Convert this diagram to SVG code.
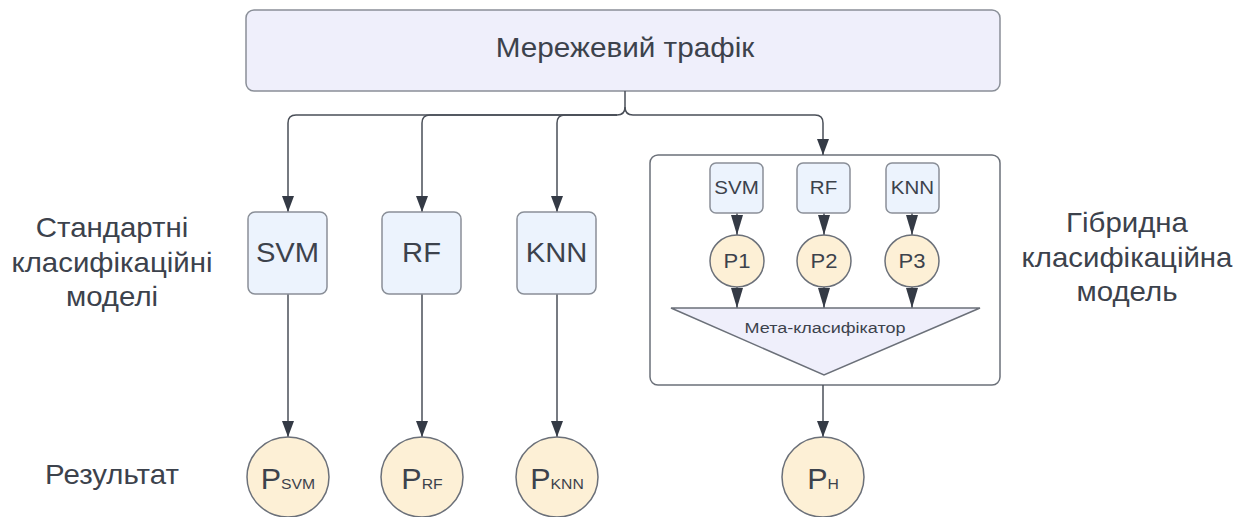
<svg xmlns="http://www.w3.org/2000/svg" width="1250" height="517" viewBox="0 0 1250 517">
<defs>
<marker id="arr" markerUnits="userSpaceOnUse" markerWidth="18" markerHeight="14" viewBox="0 0 18 14" refX="16" refY="7" orient="auto">
<path d="M0 1 L16 7 L0 13 Z" fill="#343a45"/>
</marker>
<marker id="arr2" markerUnits="userSpaceOnUse" markerWidth="22" markerHeight="14" viewBox="0 0 22 14" refX="20" refY="7" orient="auto">
<path d="M0 1 L20 7 L0 13 Z" fill="#343a45"/>
</marker>
<style>
.t{font-family:"Liberation Sans",Arial,sans-serif;fill:#3c424c;text-anchor:middle}
.top{fill:#efeffb;stroke:#8a8f98;stroke-width:1.5}
.box{fill:#ecf3fd;stroke:#8a8f98;stroke-width:1.5}
.res{fill:#fdf0d6;stroke:#6b7079;stroke-width:1.5}
.cont{fill:#ffffff;stroke:#6b7079;stroke-width:1.5}
.meta{fill:#efeffb;stroke:#6b7079;stroke-width:1.5}
.c{fill:none;stroke:#4a4f58;stroke-width:1.5}
</style>
</defs>
<rect width="1250" height="517" fill="#ffffff"/>

<g id="traffic">
<rect class="top" x="246" y="10" width="754" height="81" rx="8"/>
<text class="t" transform="translate(625,57) scale(1.1,1)" font-size="27">Мережевий трафік</text>
</g>

<g id="label-standard">
<text class="t" transform="translate(112,237) scale(1.09,1)" font-size="27">Стандартні</text>
<text class="t" transform="translate(112,272) scale(1.09,1)" font-size="27">класифікаційні</text>
<text class="t" transform="translate(112,306) scale(1.09,1)" font-size="27">моделі</text>
</g>
<g id="label-result">
<text class="t" transform="translate(112,484) scale(1.09,1)" font-size="27">Результат</text>
</g>
<g id="label-hybrid">
<text class="t" transform="translate(1127,232) scale(1.09,1)" font-size="27">Гібридна</text>
<text class="t" transform="translate(1127,267) scale(1.09,1)" font-size="27">класифікаційна</text>
<text class="t" transform="translate(1127,301) scale(1.09,1)" font-size="27">модель</text>
</g>

<g id="hybrid-container">
<rect class="cont" x="650" y="155" width="350" height="230" rx="8"/>
</g>

<g id="connectors">
<path class="c" d="M625 91 V107 Q625 115 617 115 H296 Q288 115 288 123 V212" marker-end="url(#arr)"/>
<path class="c" d="M617 115 H430 Q422 115 422 123 V212" marker-end="url(#arr)"/>
<path class="c" d="M617 115 H565 Q557 115 557 123 V212" marker-end="url(#arr)"/>
<path class="c" d="M625 107 Q625 115 633 115 H815 Q823 115 823 123 V155" marker-end="url(#arr)"/>
<path class="c" d="M288 294 V437" marker-end="url(#arr)"/>
<path class="c" d="M422 294 V437" marker-end="url(#arr)"/>
<path class="c" d="M557 294 V437" marker-end="url(#arr)"/>
<path class="c" d="M823 385 V437" marker-end="url(#arr)"/>
<path class="c" d="M737 213 V235" marker-end="url(#arr2)"/>
<path class="c" d="M824 213 V235" marker-end="url(#arr2)"/>
<path class="c" d="M912 213 V235" marker-end="url(#arr2)"/>
<path class="c" d="M737 287 V308" marker-end="url(#arr2)"/>
<path class="c" d="M824 287 V308" marker-end="url(#arr2)"/>
<path class="c" d="M912 287 V308" marker-end="url(#arr2)"/>
</g>

<g id="svm">
<rect class="box" x="248" y="212" width="79" height="82" rx="7"/>
<text class="t" transform="translate(287.5,262) scale(1.08,1)" font-size="27">SVM</text>
</g>
<g id="rf">
<rect class="box" x="382" y="212" width="79" height="82" rx="7"/>
<text class="t" transform="translate(421.5,262) scale(1.08,1)" font-size="27">RF</text>
</g>
<g id="knn">
<rect class="box" x="517" y="212" width="79" height="82" rx="7"/>
<text class="t" transform="translate(556.5,262) scale(1.08,1)" font-size="27">KNN</text>
</g>

<g id="h-svm">
<rect class="box" x="710" y="163" width="53" height="50" rx="6"/>
<text class="t" transform="translate(736.5,194) scale(1.08,1)" font-size="19">SVM</text>
</g>
<g id="h-rf">
<rect class="box" x="797" y="163" width="53" height="50" rx="6"/>
<text class="t" transform="translate(823.5,194) scale(1.08,1)" font-size="19">RF</text>
</g>
<g id="h-knn">
<rect class="box" x="886" y="163" width="53" height="50" rx="6"/>
<text class="t" transform="translate(912.5,194) scale(1.08,1)" font-size="19">KNN</text>
</g>

<g id="p1">
<ellipse class="res" cx="737" cy="261" rx="27" ry="26"/>
<text class="t" transform="translate(737,268) scale(1.1,1)" font-size="20">P1</text>
</g>
<g id="p2">
<ellipse class="res" cx="824" cy="261" rx="27" ry="26"/>
<text class="t" transform="translate(824,268) scale(1.1,1)" font-size="20">P2</text>
</g>
<g id="p3">
<ellipse class="res" cx="912" cy="261" rx="27" ry="26"/>
<text class="t" transform="translate(912,268) scale(1.1,1)" font-size="20">P3</text>
</g>

<g id="meta">
<polygon class="meta" points="671,308 980,308 824,375"/>
<text class="t" transform="translate(825,333) scale(1.2,1)" font-size="15">Мета-класифікатор</text>
</g>

<g id="p-svm">
<ellipse class="res" cx="288" cy="477" rx="41" ry="40"/>
<text class="t" transform="translate(288,489) scale(1.05,1)" font-size="29">P<tspan font-size="15">SVM</tspan></text>
</g>
<g id="p-rf">
<ellipse class="res" cx="422" cy="477" rx="41" ry="40"/>
<text class="t" transform="translate(422,489) scale(1.05,1)" font-size="29">P<tspan font-size="15">RF</tspan></text>
</g>
<g id="p-knn">
<ellipse class="res" cx="557" cy="477" rx="41" ry="40"/>
<text class="t" transform="translate(557,489) scale(1.05,1)" font-size="29">P<tspan font-size="15">KNN</tspan></text>
</g>
<g id="p-h">
<ellipse class="res" cx="823" cy="477" rx="41" ry="40"/>
<text class="t" transform="translate(823,489) scale(1.05,1)" font-size="29">P<tspan font-size="15">H</tspan></text>
</g>
</svg>
